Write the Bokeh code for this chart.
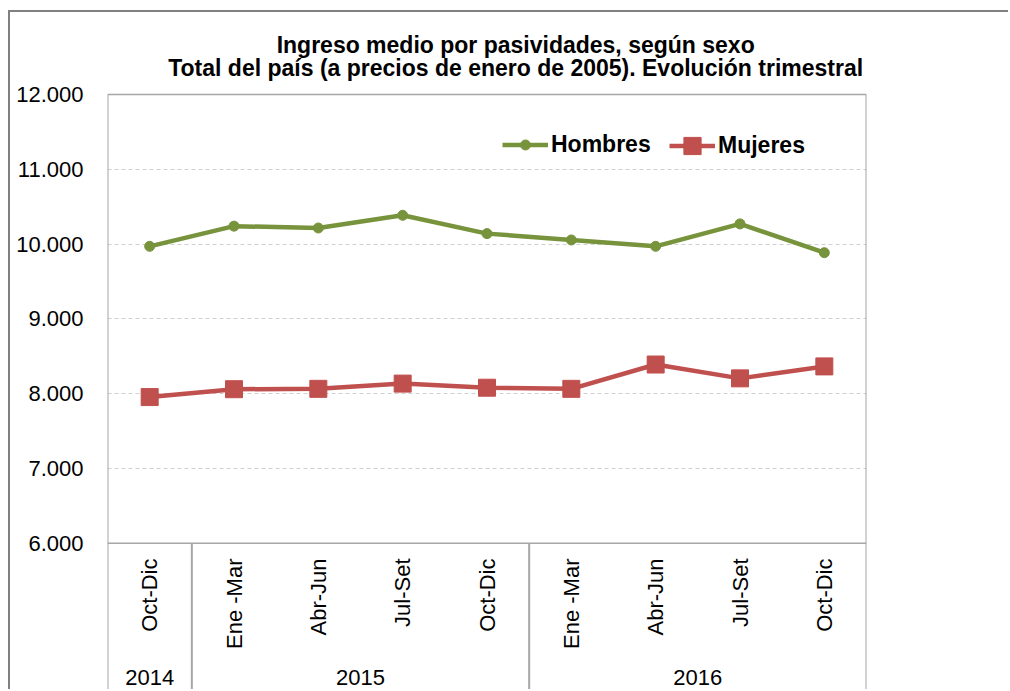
import math
from bokeh.plotting import figure
from bokeh.models import (Range1d, FixedTicker, CustomJSTickFormatter, Span,
                          Legend, LegendItem)
from bokeh.core.properties import value
from bokeh.embed import file_html
from bokeh.resources import INLINE

# ---------------- data ----------------
quarters = ["Oct-Dic", "Ene -Mar", "Abr-Jun", "Jul-Set", "Oct-Dic",
            "Ene -Mar", "Abr-Jun", "Jul-Set", "Oct-Dic"]
years = ["2014", "2015", "2015", "2015", "2015", "2016", "2016", "2016", "2016"]
hombres = [9970, 10240, 10215, 10385, 10140, 10055, 9970, 10270, 9885]
mujeres = [7955, 8060, 8065, 8135, 8080, 8065, 8390, 8205, 8365]
y_ticks = [6000, 7000, 8000, 9000, 10000, 11000, 12000]
title_lines = ["Ingreso medio por pasividades, según sexo",
               "Total del país (a precios de enero de 2005). Evolución trimestral"]
series_names = ["Hombres", "Mujeres"]

FONT = "Liberation Sans"
GREEN = "#77933C"
RED = "#C0504D"
AXIS_GRAY = "#a6a6a6"

n = len(quarters)
xs = [i + 0.5 for i in range(n)]
y_min, y_max = y_ticks[0], y_ticks[-1]

y_bottom = 4019
y_top = 13096
p = figure(width=1000, height=679, output_backend="svg", toolbar_location=None,
           x_range=Range1d(0, n), y_range=Range1d(y_bottom, y_top),
           min_border_left=97, min_border_right=144, min_border_top=0,
           min_border_bottom=0, title=None)
p.styles = {"margin-left": "8px", "margin-top": "10px",
            "border-left": "2px solid #808080", "border-top": "2px solid #808080"}

p.outline_line_color = None
p.background_fill_color = "white"
p.border_fill_color = "white"

# axes
p.xaxis.visible = False
yax = p.yaxis[0]
yax.ticker = FixedTicker(ticks=y_ticks)
yax.formatter = CustomJSTickFormatter(code="return (tick/1000).toFixed(3);")
yax.major_tick_line_color = None
yax.major_tick_out = 0
yax.major_tick_in = 0
yax.minor_tick_line_color = None
yax.major_label_standoff = 24
yax.axis_line_color = None
yax.major_label_text_font = FONT
yax.major_label_text_font_size = "22px"
yax.major_label_text_color = "black"

p.xgrid.visible = False
p.ygrid.ticker = FixedTicker(ticks=y_ticks[1:-1])
p.ygrid.grid_line_color = "#d0d0d0"
p.ygrid.grid_line_dash = "4 3"
p.ygrid.grid_line_width = 1

# plot-area borders (top and bottom of the value area)
p.add_layout(Span(location=y_max, dimension="width", line_color=AXIS_GRAY, line_width=1.5))
p.add_layout(Span(location=y_min, dimension="width", line_color=AXIS_GRAY, line_width=1.5))

# vertical lines: left/right edges and year-group separators
sep_x = [i for i in range(1, n) if years[i] != years[i - 1]]
vx = [0] + sep_x + [n]
vy0 = [y_max] + [y_min] * len(sep_x) + [y_max]
p.segment(x0=vx, x1=vx, y0=vy0, y1=[y_bottom] * len(vx),
          line_color=AXIS_GRAY, line_width=2)

# category labels
p.text(x=xs, y=[5797] * n, text=quarters, angle=math.pi / 2,
       text_align="right", text_baseline="middle",
       text_font=value(FONT), text_font_size="22px", text_color="black")

# year labels
groups = []
for i, y in enumerate(years):
    if not groups or groups[-1][0] != y:
        groups.append([y, i, i + 1])
    else:
        groups[-1][2] = i + 1
gx = [(a + b) / 2 for _, a, b in groups]
gt = [g[0] for g in groups]
p.text(x=gx, y=[4206] * len(gx), text=gt, text_align="center", text_baseline="middle",
       text_font=value(FONT), text_font_size="22px", text_color="black")

# title
p.text(x=[4.84, 4.84], y=[12668, 12348], text=title_lines,
       text_align="center", text_baseline="middle",
       text_font=value(FONT), text_font_size="23px", text_font_style="bold",
       text_color="black")

# series
lh = p.line(xs, hombres, line_color=GREEN, line_width=4.5)
sh = p.scatter(xs, hombres, marker="circle", size=10, fill_color=GREEN, line_color=GREEN)
lm = p.line(xs, mujeres, line_color=RED, line_width=4.5)
sm = p.scatter(xs, mujeres, marker="square", size=17, fill_color=RED, line_color=RED)

common = dict(orientation="horizontal", label_text_font=FONT, label_text_font_size="23px",
              label_text_font_style="bold", label_text_color="black",
              label_standoff=3, glyph_width=46,
              label_height=20, spacing=0, padding=0, margin=0,
              border_line_color=None, background_fill_alpha=0)
leg1 = Legend(items=[LegendItem(label=series_names[0], renderers=[lh, sh])],
              location=(395, 533), glyph_height=25, **common)
leg2 = Legend(items=[LegendItem(label=series_names[1], renderers=[lm, sm])],
              location=(562, 524), glyph_height=43, **common)
p.add_layout(leg1)
p.add_layout(leg2)

open("out.html", "w").write(file_html(p, INLINE))
